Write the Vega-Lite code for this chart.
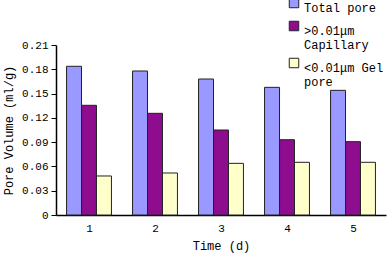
{
  "$schema": "https://vega.github.io/schema/vega-lite/v6.json",
  "autosize": {"type": "none"},
  "width": 330,
  "height": 170,
  "padding": {"left": 56, "top": 45, "right": 2, "bottom": 40},
  "background": "white",
  "config": {
    "font": "Liberation Mono",
    "view": {"stroke": null},
    "axis": {"labelFont": "Liberation Mono", "titleFont": "Liberation Mono", "labelColor": "#000", "titleColor": "#000", "domainColor": "#000", "tickColor": "#000", "titleFontWeight": "normal", "grid": false},
    "legend": {"labelFont": "Liberation Mono"}
  },
  "data": {
    "values": [
      {"day": "1", "type": "Total pore", "v": 0.1837},
      {"day": "1", "type": ">0.01μm|Capillary", "v": 0.1355},
      {"day": "1", "type": "<0.01μm Gel|pore", "v": 0.0482},
      {"day": "2", "type": "Total pore", "v": 0.1779},
      {"day": "2", "type": ">0.01μm|Capillary", "v": 0.1256},
      {"day": "2", "type": "<0.01μm Gel|pore", "v": 0.0519},
      {"day": "3", "type": "Total pore", "v": 0.168},
      {"day": "3", "type": ">0.01μm|Capillary", "v": 0.105},
      {"day": "3", "type": "<0.01μm Gel|pore", "v": 0.0638},
      {"day": "4", "type": "Total pore", "v": 0.1577},
      {"day": "4", "type": ">0.01μm|Capillary", "v": 0.093},
      {"day": "4", "type": "<0.01μm Gel|pore", "v": 0.0651},
      {"day": "5", "type": "Total pore", "v": 0.154},
      {"day": "5", "type": ">0.01μm|Capillary", "v": 0.0906},
      {"day": "5", "type": "<0.01μm Gel|pore", "v": 0.0651}
    ]
  },
  "mark": {"type": "bar", "stroke": "#222", "strokeWidth": 1},
  "encoding": {
    "x": {
      "field": "day", "type": "nominal",
      "scale": {"paddingInner": 0.32, "paddingOuter": 0.16},
      "axis": {"title": "Time (d)", "labelAngle": 0, "labelFontSize": 11, "titleFontSize": 12, "tickBand": "extent", "tickSize": -5, "labelPadding": 12, "titlePadding": 7, "domainWidth": 1.5}
    },
    "xOffset": {"field": "type", "sort": ["Total pore", ">0.01μm|Capillary", "<0.01μm Gel|pore"], "scale": {"paddingInner": 0, "paddingOuter": 0}},
    "y": {
      "field": "v", "type": "quantitative",
      "scale": {"domain": [0, 0.21]},
      "axis": {"title": "Pore Volume (ml/g)", "values": [0, 0.03, 0.06, 0.09, 0.12, 0.15, 0.18, 0.21], "labelExpr": "datum.value === 0 ? '0' : format(datum.value, '.2f')", "labelFontSize": 11, "titleFontSize": 12, "tickSize": 5, "labelPadding": 3, "titlePadding": 6, "domainWidth": 1.5}
    },
    "color": {
      "field": "type", "type": "nominal",
      "sort": ["Total pore", ">0.01μm|Capillary", "<0.01μm Gel|pore"],
      "scale": {"domain": ["Total pore", ">0.01μm|Capillary", "<0.01μm Gel|pore"], "range": ["#9999FF", "#8E0C8E", "#FFFFCC"]},
      "legend": {
        "title": null, "orient": "none", "legendX": 232, "legendY": -48,
        "symbolType": "square", "symbolSize": 90, "symbolStrokeColor": "#222", "symbolStrokeWidth": 1,
        "labelExpr": "split(datum.label, '|')", "labelFontSize": 12, "labelColor": "#000", "labelLimit": 200,
        "labelBaseline": "top", "rowPadding": 5,
        "encode": {"labels": {"update": {"lineHeight": {"value": 14}}}}
      }
    }
  }
}
